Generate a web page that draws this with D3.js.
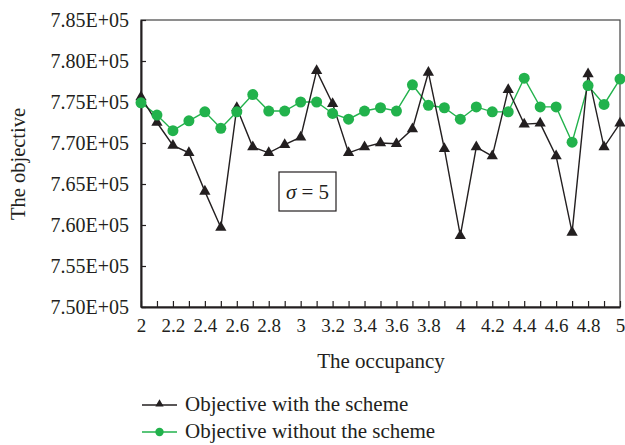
<!DOCTYPE html>
<html><head><meta charset="utf-8">
<script src="https://cdn.jsdelivr.net/npm/d3@7"></script>
<style>body{margin:0;background:#fff}svg{display:block}</style>
</head><body>
<script>
const occupancy = [2.0,2.1,2.2,2.3,2.4,2.5,2.6,2.7,2.8,2.9,3.0,3.1,3.2,3.3,3.4,3.5,3.6,3.7,3.8,3.9,4.0,4.1,4.2,4.3,4.4,4.5,4.6,4.7,4.8,4.9,5.0];
const withScheme = [7.756,7.725,7.697,7.688,7.641,7.597,7.743,7.695,7.688,7.698,7.707,7.788,7.748,7.688,7.695,7.700,7.699,7.717,7.786,7.693,7.587,7.695,7.684,7.765,7.723,7.724,7.684,7.591,7.784,7.695,7.724].map(v=>v*1e5);
const withoutScheme = [7.749,7.734,7.715,7.727,7.738,7.718,7.738,7.759,7.739,7.739,7.750,7.750,7.736,7.729,7.739,7.743,7.739,7.771,7.746,7.743,7.729,7.744,7.738,7.738,7.779,7.744,7.744,7.701,7.770,7.747,7.778].map(v=>v*1e5);
const yTicks = [7.50e5,7.55e5,7.60e5,7.65e5,7.70e5,7.75e5,7.80e5,7.85e5];
const xTickLabels = [2,2.2,2.4,2.6,2.8,3,3.2,3.4,3.6,3.8,4,4.2,4.4,4.6,4.8,5];
const seriesNames = ["Objective with the scheme","Objective without the scheme"];

const W=625,H=445;
const m={l:141,r:620,t:20,b:307};
const font='"Liberation Serif","Times New Roman",serif';
const green="#22b24c";
const ink="#231f20";
const svg=d3.select("body").append("svg").attr("width",W).attr("height",H);
const x=d3.scaleLinear().domain([2,5]).range([m.l,m.r]);
const y=d3.scaleLinear().domain([7.5e5,7.85e5]).range([m.b,m.t]);

// frame
svg.append("rect").attr("x",m.l).attr("y",m.t).attr("width",m.r-m.l).attr("height",m.b-m.t)
  .attr("fill","none").attr("stroke","#444").attr("stroke-width",1.2);

// y axis
const ya=svg.append("g").attr("transform",`translate(${m.l},0)`)
  .call(d3.axisLeft(y).tickValues(yTicks).tickSizeInner(-5).tickSizeOuter(0).tickPadding(12)
  .tickFormat(d=>(d/1e5).toFixed(2)+"E+05"));
ya.select(".domain").attr("stroke",ink).attr("stroke-width",2);
ya.selectAll(".tick line").attr("stroke",ink).attr("stroke-width",1.2);
ya.selectAll("text").attr("font-family",font).attr("font-size",20).attr("fill",ink);

// x axis
const xa=svg.append("g").attr("transform",`translate(0,${m.b})`)
  .call(d3.axisBottom(x).tickValues(occupancy).tickSizeInner(-6).tickSizeOuter(0).tickPadding(12)
  .tickFormat(d=>{const r=Math.round(d*10)/10; return xTickLabels.some(t=>Math.abs(t-r)<1e-9)?d3.format("~g")(r):"";}));
xa.select(".domain").attr("stroke",ink).attr("stroke-width",2);
xa.selectAll(".tick line").attr("stroke",ink).attr("stroke-width",1.2);
xa.selectAll("text").attr("font-family",font).attr("font-size",19).attr("fill",ink);

// axis titles
svg.append("text").attr("transform","translate(25,164) rotate(-90)").attr("text-anchor","middle")
  .attr("font-family",font).attr("font-size",20.5).attr("fill",ink).text("The objective");
svg.append("text").attr("x",381).attr("y",368).attr("text-anchor","middle")
  .attr("font-family",font).attr("font-size",21).attr("fill",ink).text("The occupancy");

const line=d3.line().x((d,i)=>x(occupancy[i])).y(d=>y(d));
const tri=d3.symbol().type(d3.symbolTriangle).size(55);

// green series
svg.append("path").datum(withoutScheme).attr("d",line).attr("fill","none").attr("stroke",green).attr("stroke-width",1.4);
// black series
svg.append("path").datum(withScheme).attr("d",line).attr("fill","none").attr("stroke",ink).attr("stroke-width",1.4);
svg.selectAll(".tri").data(withScheme).join("path").attr("class","tri").attr("d",tri)
  .attr("transform",(d,i)=>`translate(${x(occupancy[i])},${y(d)})`).attr("fill",ink);
svg.selectAll(".cir").data(withoutScheme).join("circle").attr("class","cir")
  .attr("cx",(d,i)=>x(occupancy[i])).attr("cy",d=>y(d)).attr("r",5.5).attr("fill",green);

// annotation
svg.append("rect").attr("x",279).attr("y",172).attr("width",57).attr("height",39).attr("fill","#fff")
  .attr("stroke",ink).attr("stroke-width",1.2);
const ann=svg.append("text").attr("x",307.5).attr("y",199).attr("text-anchor","middle")
  .attr("font-family",font).attr("font-size",21).attr("fill",ink);
ann.append("tspan").attr("font-style","italic").text("σ");
ann.append("tspan").text(" = 5");

// legend
const lg=svg.append("g");
[[405,ink,"tri"],[432,green,"cir"]].forEach(([ly,c,k],i)=>{
  lg.append("line").attr("x1",142).attr("x2",177).attr("y1",ly).attr("y2",ly).attr("stroke",c).attr("stroke-width",1.4);
  if(k==="tri") lg.append("path").attr("d",d3.symbol().type(d3.symbolTriangle).size(30)).attr("transform",`translate(159.5,${ly-1})`).attr("fill",c);
  else lg.append("circle").attr("cx",159.5).attr("cy",ly).attr("r",4.2).attr("fill",c);
  lg.append("text").attr("x",185).attr("y",ly+6).attr("font-family",font).attr("font-size",21).attr("fill",ink).text(seriesNames[i]);
});
</script>
</body></html>
